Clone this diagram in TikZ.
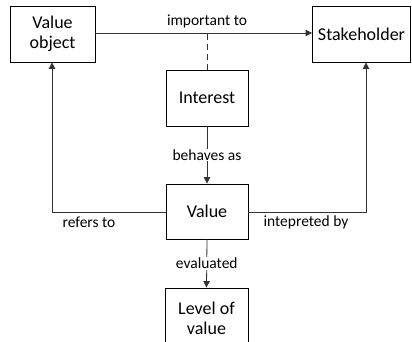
\documentclass[tikz,border=0pt]{standalone}
\usepackage{fontspec}
\setmainfont{Carlito}
\usetikzlibrary{arrows.meta}
\begin{document}
\begin{tikzpicture}[x=1pt,y=-1pt,
  box/.style={draw,line width=0.9pt,inner sep=0pt,align=center,font=\fontsize{18}{20}\selectfont},
  lbl/.style={fill=white,inner sep=1pt,font=\fontsize{15.5}{18}\selectfont},
  conn/.style={line width=0.8pt,draw=black!80},
  arr/.style={conn,-{Triangle[length=6.5pt,width=6.5pt]}}]
\useasboundingbox (0,0) rectangle (412,342);
\clip (0,0) rectangle (412,342);
\node[box,minimum width=85pt,minimum height=56pt] (vo) at (52.5,34) {Value\\object};
\node[box,minimum width=98pt,minimum height=56pt] (sh) at (361.5,34) {Stakeholder};
\node[box,minimum width=82pt,minimum height=56pt] (in) at (207,98) {Interest};
\node[box,minimum width=82pt,minimum height=55pt] (va) at (207,211.5) {Value};
\node[box,minimum width=83pt,minimum height=60pt] (lv) at (206.5,318) {Level of\\value};
\draw[arr] (vo.east|-0,33) -- (sh.west|-0,33);
\node[lbl,fill=none] (t1) at (207,21) {important to};
\coordinate (m) at (207,33);
\draw[conn,dashed,dash pattern=on 6pt off 4pt] (in.north) -- (m);
\draw[arr] (in.south) -- node[lbl] (t2) {behaves as} (va.north);
\draw[arr] (va.west|-0,212) -| (vo.south-|52,0);
\draw[arr] (va.east|-0,212) -| (sh.south-|366,0);
\node[lbl,fill=none] (t3) at (89,222) {refers to};
\node[lbl,fill=none] (t4) at (306,222) {intepreted by};
\draw[arr] (va.south) -- node[lbl] (t5) {evaluated} (lv.north);
\end{tikzpicture}
\end{document}
